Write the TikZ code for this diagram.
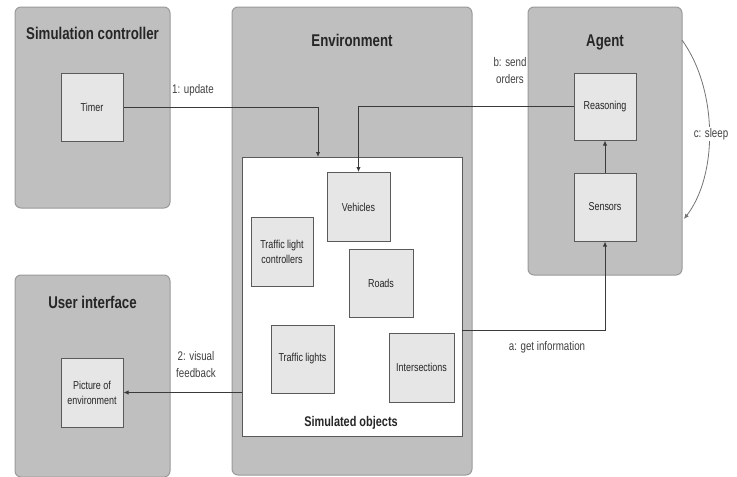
\documentclass[tikz,border=0pt]{standalone}
\usepackage{fontspec}
\setmainfont{Liberation Sans}[FakeStretch=0.78]
\usetikzlibrary{arrows.meta}
\definecolor{outerfill}{HTML}{BFBFBF}
\definecolor{outerline}{HTML}{9A9A9A}
\definecolor{innerfill}{HTML}{E6E6E6}
\definecolor{innerline}{HTML}{5A5A5A}
\definecolor{linec}{HTML}{3A3A3A}
\tikzset{
  outerbox/.style={draw=outerline, fill=outerfill, rounded corners=6pt, line width=1pt},
  innerbox/.style={draw=innerline, fill=innerfill, line width=1pt, minimum width=62pt, minimum height=68pt, inner sep=1pt, align=center, font=\fontsize{11.5}{15}\selectfont, text=black!85},
  titletext/.style={font=\bfseries\fontsize{17}{20}\selectfont, text=black!85},
  lbl/.style={font=\fontsize{12.5}{17}\selectfont, align=center, text=black!75},
  arr/.style={draw=linec, line width=1pt, -{Latex[length=5pt,width=4.5pt]}}
}
\begin{document}
\begin{tikzpicture}[x=1pt,y=-1pt]
\useasboundingbox (0,0) rectangle (737,477);
% outer containers
\draw[outerbox] (15,7) rectangle (170,208);
\draw[outerbox] (232,7) rectangle (472,475);
\draw[outerbox] (528,7) rectangle (682,275);
\draw[outerbox] (15,275) rectangle (170,477);
\node[titletext] (tsc) at (92.5,33) {Simulation controller};
\node[titletext] (tenv) at (352,40) {Environment};
\node[titletext] (tag) at (605,42) {Agent};
\node[titletext] (tui) at (92.5,302) {User interface};
% simulated objects
\node[draw=innerline, fill=white, line width=1pt, minimum width=220pt, minimum height=279pt, inner sep=0pt] (sim) at (352,296.5) {};
\node[font=\bfseries\fontsize{14}{16}\selectfont, text=black!85] (simlbl) at (351,423) {Simulated objects};
% inner boxes
\node[innerbox] (timer) at (92,107) {Timer};
\node[innerbox, minimum height=69pt] (pic) at (92,392.5) {Picture of\\environment};
\node[innerbox, minimum width=63pt, minimum height=69pt] (veh) at (358.5,207) {Vehicles};
\node[innerbox, minimum height=69pt] (tlc) at (282,251.5) {Traffic light\\controllers};
\node[innerbox, minimum width=64pt] (roads) at (381,283) {Roads};
\node[innerbox, minimum width=63pt] (tl) at (302.5,359) {Traffic lights};
\node[innerbox, minimum width=65pt, minimum height=69pt] (inter) at (421.5,367.5) {Intersections};
\node[innerbox, minimum height=67pt] (reas) at (605,106.5) {Reasoning};
\node[innerbox] (sens) at (605,207) {Sensors};
% connectors
\coordinate (upd) at (318,157);
\draw[arr] (timer.east) -| (upd);
\node[lbl] (lupd) at (193,90) {1: update};
\draw[arr] (reas.west) -| (veh.north);
\node[lbl] (lsend) at (510,71) {b: send\\orders};
\draw[arr] (sens.north) -- (reas.south);
\coordinate (ga) at (462,330);
\draw[arr] (ga) -| (sens.south);
\node[lbl] (lget) at (547,347) {a: get information};
\draw[arr] (pic.east -| sim.west) -- (pic.east);
\node[lbl] (lvis) at (196,365) {2: visual\\feedback};
\coordinate (s1) at (682,40);
\coordinate (s2) at (684,219);
\draw[arr, draw=black!55, line width=0.8pt] (s1) .. controls (718,90) and (718,175) .. (s2);
\node[lbl, fill=white, inner sep=1pt] (lsleep) at (711,134) {c: sleep};
\end{tikzpicture}
\end{document}
